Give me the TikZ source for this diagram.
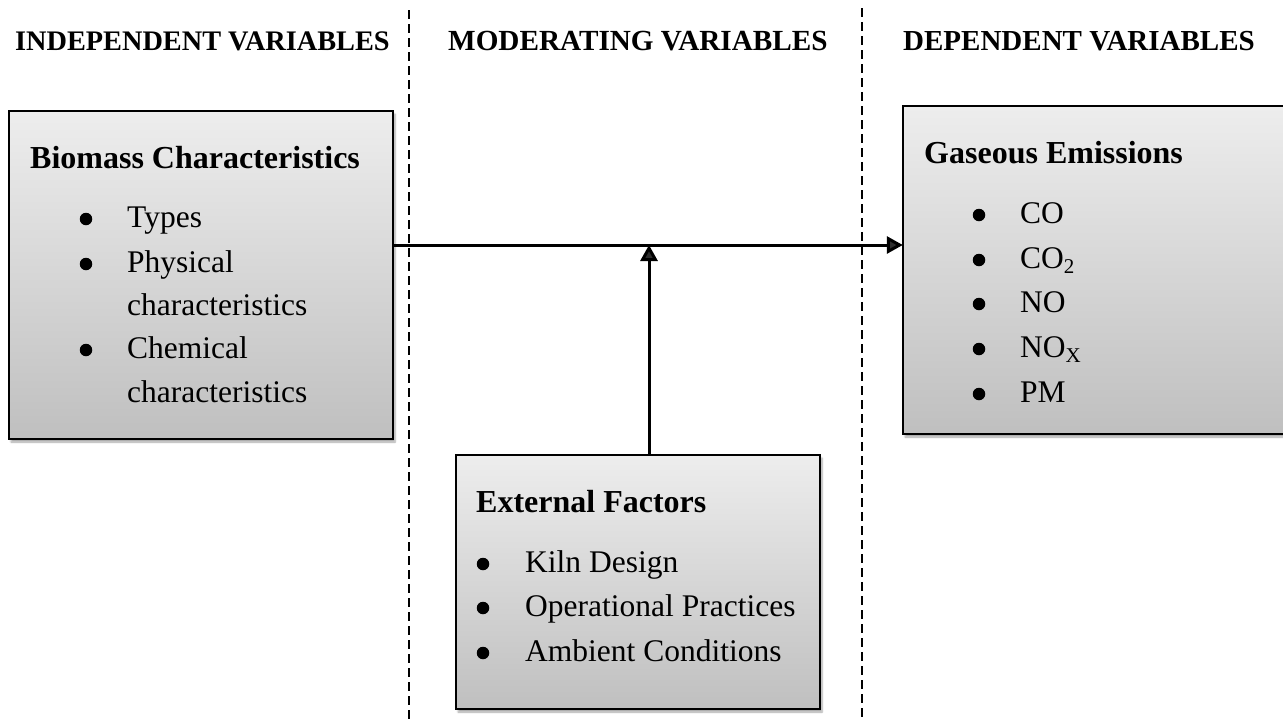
\documentclass[tikz,border=0pt]{standalone}
\usepackage{fontspec}
\setmainfont{Liberation Serif}
\usetikzlibrary{arrows.meta,shadows.blur}
\tikzset{
  box/.style={draw=black, line width=2.4pt, top color=gray!14, bottom color=gray!50, blur shadow={shadow xshift=2pt, shadow yshift=-3pt, shadow blur steps=6, shadow opacity=35}},
  hdr/.style={anchor=base west, inner sep=0pt, font=\bfseries},
  ttl/.style={anchor=base west, inner sep=0pt, font=\fontsize{32}{38}\selectfont\bfseries},
  itm/.style={anchor=base west, inner sep=0pt, font=\fontsize{31.5}{38}\selectfont},
  bul/.style={circle, fill=black, inner sep=0pt, minimum size=12.5pt},
  divider/.style={line width=2pt, dash pattern=on 9pt off 5pt},
  conn/.style={line width=3pt, -{Triangle[length=16pt,width=17pt]}}
}
\begin{document}
\begin{tikzpicture}[x=1pt,y=-1pt]
\useasboundingbox (0,0) rectangle (1283,721);
% dividers
\coordinate (d1t) at (409,10); \coordinate (d1b) at (409,721);
\coordinate (d2t) at (862,8); \coordinate (d2b) at (862,721);
\draw[divider] (d1t) -- (d1b);
\draw[divider] (d2t) -- (d2b);
% headers
\node[hdr, font=\fontsize{28.3}{34}\selectfont\bfseries] (h1) at (15,50) {INDEPENDENT VARIABLES};
\node[hdr, font=\fontsize{29.2}{34}\selectfont\bfseries] (h2) at (448,50) {MODERATING VARIABLES};
\node[hdr, font=\fontsize{29}{34}\selectfont\bfseries] (h3) at (903,50) {DEPENDENT VARIABLES};
% boxes
\path[box] (9,111) rectangle (393,439);
\node[inner sep=0pt, minimum width=384pt, minimum height=328pt] (bio) at (201,275) {};
\path[box] (903,106) rectangle (1295,434);
\node[inner sep=0pt, minimum width=392pt, minimum height=328pt] (gas) at (1099,270) {};
\path[box] (456,455) rectangle (820,709);
\node[inner sep=0pt, minimum width=364pt, minimum height=254pt] (ext) at (638,582) {};
% biomass text
\node[ttl] (bt) at (30,168) {Biomass Characteristics};
\node[bul] (bb1) at (86,219) {};
\node[itm] (bi1) at (127,227) {Types};
\node[bul] (bb2) at (86,264) {};
\node[itm] (bi2) at (127,272) {Physical};
\node[itm] (bi2b) at (127,315) {characteristics};
\node[bul] (bb3) at (86,350) {};
\node[itm] (bi3) at (127,358) {Chemical};
\node[itm] (bi3b) at (127,402) {characteristics};
% gaseous text
\node[ttl] (gt) at (924,163) {Gaseous Emissions};
\node[bul] (gb1) at (979,215) {};
\node[itm] (gi1) at (1020,223) {CO};
\node[bul] (gb2) at (979,260) {};
\node[itm] (gi2) at (1020,268) {CO\raisebox{-0.18em}{\fontsize{21}{24}\selectfont 2}};
\node[bul] (gb3) at (979,304) {};
\node[itm] (gi3) at (1020,312) {NO};
\node[bul] (gb4) at (979,349) {};
\node[itm] (gi4) at (1020,357) {NO\raisebox{-0.18em}{\fontsize{21}{24}\selectfont X}};
\node[bul] (gb5) at (979,394) {};
\node[itm] (gi5) at (1020,402) {PM};
% external text
\node[ttl] (et) at (476,512) {External Factors};
\node[bul] (eb1) at (483,564) {};
\node[itm] (ei1) at (525,572) {Kiln Design};
\node[bul] (eb2) at (483,608) {};
\node[itm] (ei2) at (525,616) {Operational Practices};
\node[bul] (eb3) at (483,653) {};
\node[itm] (ei3) at (525,661) {Ambient Conditions};
% connectors
\coordinate (j) at (649,245);
\draw[conn] (bio.east |- j) -- (gas.west |- j);
\draw[conn] (ext.north -| j) -- (j);
\end{tikzpicture}
\end{document}
